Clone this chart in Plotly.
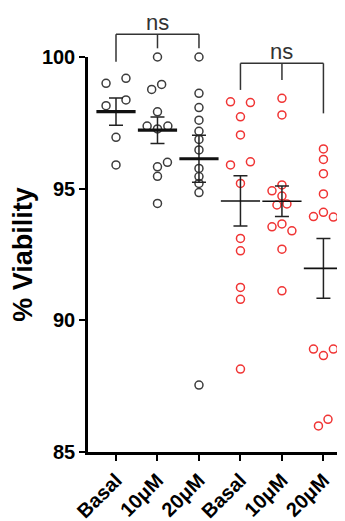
import numpy as np
import plotly.graph_objects as go

# ---------------- data ----------------
tick_labels = ["Basal", "10μM", "20μM", "Basal", "10μM", "20μM"]
positions = [1, 2, 3, 4, 5, 6]

basal_a = [99.0, 99.19, 98.37, 98.15, 96.95, 95.9]
um10_a = [100.0, 98.96, 98.77, 97.92, 97.38, 97.27, 97.38, 96.0, 95.83, 95.47, 94.44]
um20_a = [100.0, 98.62, 98.08, 97.6, 97.18, 96.87, 96.47, 95.77, 95.46, 95.2, 94.85, 87.54]
basal_b = [98.30, 98.27, 97.73, 97.04, 95.9, 96.02, 95.2, 93.11, 92.64, 91.25, 90.80, 88.15]
um10_b = [98.43, 97.80, 95.14, 94.92, 94.72, 94.38, 94.42, 93.55, 93.66, 93.40, 92.70, 91.12]
um20_b = [96.51, 96.11, 95.57, 94.8, 94.1, 93.94, 93.92, 88.91, 88.66, 88.91, 86.24, 85.99]

groups = [basal_a, um10_a, um20_a, basal_b, um10_b, um20_b]

# horizontal spread of overlapping points (x units)
jitter = [
    [-0.24, 0.24, 0.24, -0.24, 0, 0],
    [0, 0.1, -0.14, 0, -0.25, 0, 0.25, 0.24, 0, 0, 0],
    [0] * 12,
    [-0.24, 0.24, 0, 0, -0.24, 0.24, 0, 0, 0, 0, 0, 0],
    [0, 0, 0, -0.24, 0, -0.12, 0.12, -0.24, 0, 0.24, 0, 0],
    [0, 0, 0, 0, 0, -0.24, 0.24, -0.24, 0, 0.24, 0.11, -0.12],
]

# significance brackets: (left, mid, right positions), bar level, leg ends, label level
brackets = [
    dict(xs=[1, 2, 3], bar=100.86, legs=[99.82, 100.33, 100.33], label=101.32, text="ns"),
    dict(xs=[4, 5, 6], bar=99.76, legs=[98.75, 99.13, 97.86], label=100.2, text="ns"),
]

# ---------------- style ----------------
BLACK_PT = "#3c3c3c"
RED_PT = "#f03434"
colors = [BLACK_PT] * 3 + [RED_PT] * 3
mean_widths = [3.2] * 3 + [1.6] * 3

XR = [0.325, 6.52]
YR = [85, 100]
FONT = "Liberation Sans, Arial, sans-serif"

fig = go.Figure()

for i, (vals, jit) in enumerate(zip(groups, jitter)):
    fig.add_trace(go.Scatter(
        x=[positions[i] + j for j in jit], y=vals, mode="markers",
        marker=dict(symbol="circle-open", size=8, color=colors[i],
                    line=dict(width=1.5, color=colors[i])),
        cliponaxis=False, showlegend=False, hoverinfo="y"))

means = [float(np.mean(g)) for g in groups]
sems = [float(np.std(g, ddof=1) / np.sqrt(len(g))) for g in groups]

for i in range(6):
    fig.add_trace(go.Scatter(
        x=[positions[i]], y=[means[i]], mode="markers",
        marker=dict(symbol="line-ew", size=28, color="#111",
                    line=dict(width=mean_widths[i], color="#111")),
        error_y=dict(type="data", array=[sems[i]], width=7,
                     thickness=1.5, color="#222"),
        cliponaxis=False, showlegend=False, hoverinfo="y"))


def px_(v):
    return (v - XR[0]) / (XR[1] - XR[0])


def py_(v):
    return (v - YR[0]) / (YR[1] - YR[0])


shapes = []
annotations = []
for b in brackets:
    xs = b["xs"]
    shapes.append(dict(type="line", xref="paper", yref="paper",
                       x0=px_(xs[0]), x1=px_(xs[-1]), y0=py_(b["bar"]), y1=py_(b["bar"]),
                       line=dict(color="#333", width=1.5)))
    for xv, leg in zip(xs, b["legs"]):
        shapes.append(dict(type="line", xref="paper", yref="paper",
                           x0=px_(xv), x1=px_(xv), y0=py_(b["bar"]), y1=py_(leg),
                           line=dict(color="#333", width=1.5)))
    annotations.append(dict(xref="paper", yref="paper", x=px_(xs[1]), y=py_(b["label"]),
                            xanchor="center", yanchor="middle",
                            text=b["text"], showarrow=False,
                            font=dict(family=FONT, size=22, color="#333")))

# page body adds an 8px offset; figure sized so the plot lands where the reference has it
fig.update_layout(
    width=337, height=513,
    margin=dict(l=80, r=0, t=49, b=69),
    paper_bgcolor="white", plot_bgcolor="white",
    shapes=shapes, annotations=annotations,
    xaxis=dict(range=XR, tickvals=positions, ticktext=tick_labels,
               tickangle=-45, showline=True, linewidth=2.5, linecolor="black",
               ticks="outside", ticklen=6, tickwidth=2, tickcolor="black",
               showgrid=False, zeroline=False, automargin=False,
               tickfont=dict(family=FONT, size=20, color="black", weight="bold")),
    yaxis=dict(range=YR, tickvals=[85, 90, 95, 100],
               showline=True, linewidth=2.5, linecolor="black",
               ticks="outside", ticklen=6, tickwidth=2, tickcolor="black",
               showgrid=False, zeroline=False, automargin=False,
               tickfont=dict(family=FONT, size=20, color="black", weight="bold"),
               title=dict(text="% Viability", standoff=4,
                          font=dict(family=FONT, size=27, color="black", weight="bold"))),
)

fig.write_html("out.html")
